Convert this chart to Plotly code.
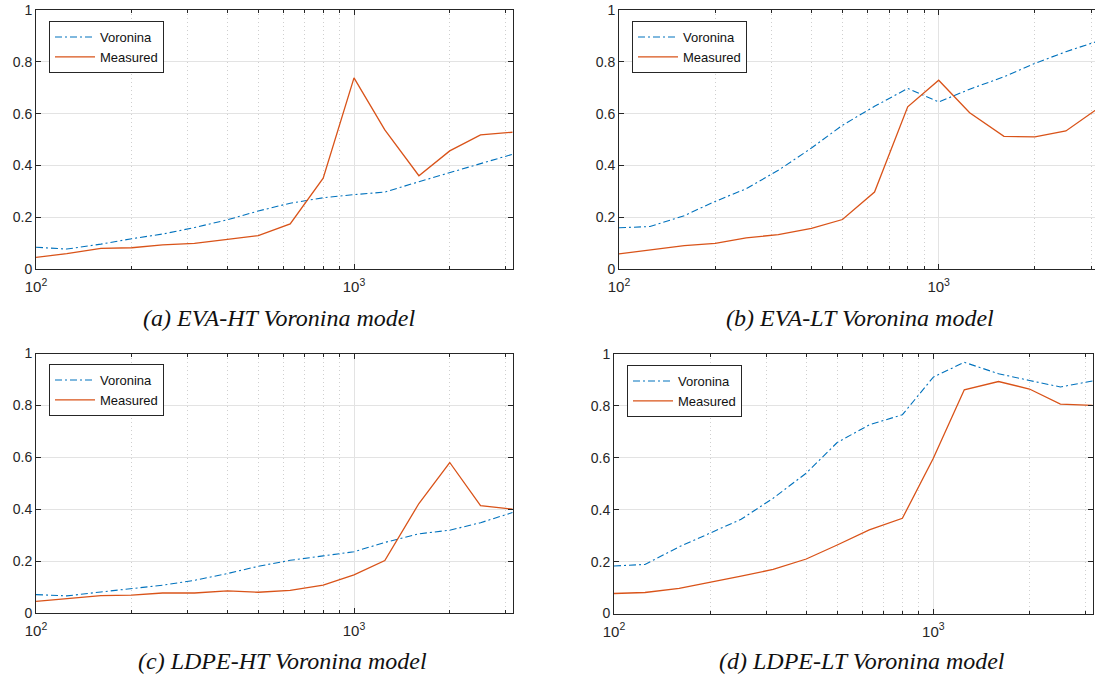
import plotly.graph_objects as go

W, H = 1095, 680

freq = [100, 125, 160, 200, 250, 315, 400, 500, 630, 800, 1000, 1250, 1600, 2000, 2500, 3150]

vor_a = [0.084, 0.077, 0.096, 0.117, 0.135, 0.160, 0.190, 0.224, 0.254, 0.275, 0.287, 0.297, 0.337, 0.371, 0.407, 0.443]
mea_a = [0.045, 0.059, 0.080, 0.082, 0.093, 0.099, 0.114, 0.129, 0.174, 0.351, 0.738, 0.537, 0.360, 0.456, 0.518, 0.528]

vor_b = [0.159, 0.164, 0.206, 0.261, 0.310, 0.381, 0.467, 0.555, 0.628, 0.697, 0.645, 0.694, 0.742, 0.794, 0.839, 0.880]
mea_b = [0.058, 0.074, 0.090, 0.099, 0.120, 0.133, 0.157, 0.191, 0.297, 0.626, 0.729, 0.603, 0.512, 0.510, 0.533, 0.620]

vor_c = [0.071, 0.066, 0.081, 0.094, 0.107, 0.126, 0.152, 0.180, 0.203, 0.220, 0.236, 0.272, 0.305, 0.319, 0.348, 0.387]
mea_c = [0.045, 0.055, 0.067, 0.069, 0.077, 0.077, 0.085, 0.080, 0.087, 0.107, 0.147, 0.202, 0.422, 0.580, 0.414, 0.400]

vor_d = [0.183, 0.189, 0.257, 0.311, 0.363, 0.444, 0.541, 0.659, 0.727, 0.766, 0.911, 0.968, 0.924, 0.898, 0.873, 0.896]
mea_d = [0.077, 0.081, 0.097, 0.120, 0.144, 0.170, 0.210, 0.264, 0.322, 0.367, 0.598, 0.862, 0.894, 0.865, 0.807, 0.802]

titles = ["(a) EVA-HT Voronina model", "(b) EVA-LT Voronina model",
          "(c) LDPE-HT Voronina model", "(d) LDPE-LT Voronina model"]
series_names = ["Voronina", "Measured"]

x_ticks = [100, 1000]
x_ticktext = ["10<sup>2</sup>", "10<sup>3</sup>"]
minor_ticks = [200, 300, 400, 500, 600, 700, 800, 900, 2000, 3000]
y_ticks = [0, 0.2, 0.4, 0.6, 0.8, 1]
y_ticktext = ["0", "0.2", "0.4", "0.6", "0.8", "1"]

BLUE = "#0072BD"
ORANGE = "#D95319"
AX = "#262626"
GRID = "#e3e3e3"


def px_x(p):
    return p / W


def px_y(p):
    return 1 - p / H


# panel pixel boxes in window coords: (left, right, top, bottom, xmax_log, mirror_y)
panels = [
    (36, 513, 10, 269, 3.5, True),
    (619, 1095, 10, 269, 3.489, False),
    (36, 513, 353.5, 613, 3.5, True),
    (614, 1093, 354, 613.5, 3.5, True),
]
data = [(vor_a, mea_a), (vor_b, mea_b), (vor_c, mea_c), (vor_d, mea_d)]
title_pos = [(279, 318), (860, 318), (282, 661), (862, 661)]
legend_pos = [(49, 21), (632, 21), (49, 364), (627, 365)]

fig = go.Figure()
layout = dict(template="none", width=W, height=H,
              margin=dict(l=0, r=0, t=0, b=0, pad=0, autoexpand=False),
              paper_bgcolor="white", plot_bgcolor="white", showlegend=True,
              font=dict(family="Liberation Sans, Arial, sans-serif", size=14, color=AX),
              annotations=[])

for i, ((l, r, t, b, xmax, mirr), (v, m)) in enumerate(zip(panels, data)):
    k = "" if i == 0 else str(i + 1)
    leg = "legend" if i == 0 else f"legend{i + 1}"
    fig.add_trace(go.Scatter(x=freq, y=v, mode="lines", name=series_names[0],
                             line=dict(color=BLUE, width=1.1, dash="7px,3px,2px,3px"),
                             xaxis="x" + k, yaxis="y" + k, legend=leg))
    fig.add_trace(go.Scatter(x=freq, y=m, mode="lines", name=series_names[1],
                             line=dict(color=ORANGE, width=1.3),
                             xaxis="x" + k, yaxis="y" + k, legend=leg))
    layout["xaxis" + k] = dict(
        type="log", range=[2, xmax], domain=[px_x(l), min(1.0, px_x(r))], automargin=False,
        anchor="y" + k, tickmode="array", tickvals=x_ticks, ticktext=x_ticktext,
        ticks="inside", ticklen=5, tickcolor=AX, ticklabelstandoff=4,
        showline=True, linecolor=AX, linewidth=1, mirror="ticks",
        showgrid=True, gridcolor=GRID, gridwidth=1,
        minor=dict(tickmode="array", tickvals=minor_ticks, ticks="inside", ticklen=3, tickcolor=AX,
                   showgrid=True, gridcolor="#cfcfcf", griddash="1px,3px", gridwidth=1),
        zeroline=False, tickfont=dict(size=15, color=AX), fixedrange=True)
    layout["yaxis" + k] = dict(
        range=[0, 1], domain=[px_y(b), px_y(t)], anchor="x" + k, automargin=False,
        tickmode="array", tickvals=y_ticks, ticktext=y_ticktext,
        ticks="inside", ticklen=5, tickcolor=AX,
        showline=True, linecolor=AX, linewidth=1, mirror=("ticks" if mirr else False),
        showgrid=True, gridcolor=GRID, gridwidth=1, zeroline=False,
        tickfont=dict(size=14, color=AX), fixedrange=True)
    lx, ly = legend_pos[i]
    layout[leg] = dict(x=px_x(lx), y=px_y(ly), xanchor="left", yanchor="top",
                       bgcolor="white", bordercolor=AX, borderwidth=1,
                       font=dict(size=13, color="#111111"), tracegroupgap=0,
                       itemwidth=40)
    tx, ty = title_pos[i]
    layout["annotations"].append(dict(
        text=f"<i>{titles[i]}</i>", x=px_x(tx), y=px_y(ty), xref="paper", yref="paper",
        xanchor="center", yanchor="middle", showarrow=False,
        font=dict(family="Liberation Serif", size=24, color="#111111")))

fig.update_layout(**layout)
fig.write_html(
    "out.html",
    config={"displayModeBar": False},
    post_script="document.body.style.margin='0';document.documentElement.style.overflow='hidden';",
)
